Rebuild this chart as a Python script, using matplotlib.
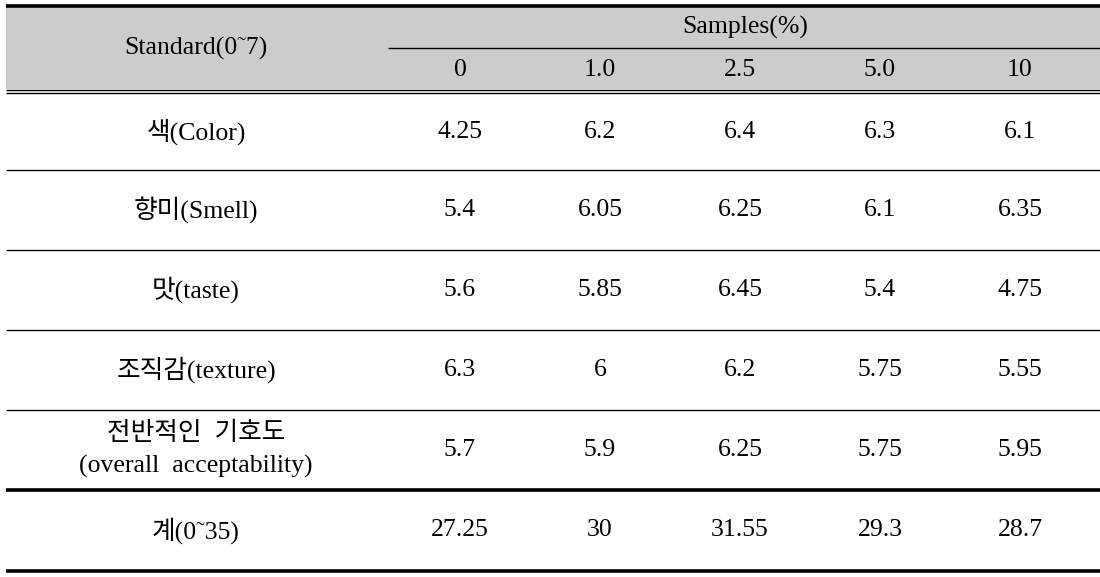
import matplotlib.pyplot as plt

plt.rcParams['font.family'] = ['Liberation Serif', 'Noto Sans CJK KR']

row_labels = ["색(Color)", "향미(Smell)", "맛(taste)", "조직감(texture)",
              "전반적인  기호도\n(overall  acceptability)", "계(0\u02dc35)"]
sample_cols = ["0", "1.0", "2.5", "5.0", "10"]
color_vals = ["4.25", "6.2", "6.4", "6.3", "6.1"]
smell_vals = ["5.4", "6.05", "6.25", "6.1", "6.35"]
taste_vals = ["5.6", "5.85", "6.45", "5.4", "4.75"]
texture_vals = ["6.3", "6", "6.2", "5.75", "5.55"]
overall_vals = ["5.7", "5.9", "6.25", "5.75", "5.95"]
total_vals = ["27.25", "30", "31.55", "29.3", "28.7"]
table = [color_vals, smell_vals, taste_vals, texture_vals, overall_vals, total_vals]

fig = plt.figure(figsize=(11, 5.77), dpi=100)
ax = fig.add_axes([0, 0, 1, 1])
ax.set_xlim(0, 1100)
ax.set_ylim(577, 0)
ax.axis('off')

x0, x1 = 6, 1100
col_x = [460, 600, 740, 880, 1020]
label_x = 196
fs = 18.5

# header background
ax.fill_between([x0, x1], 7, 89, color='#cccccc', lw=0)
ax.plot([x0, x1], [6, 6], color='black', lw=2.6, solid_capstyle='butt')
ax.plot([388, x1], [48, 48], color='black', lw=1.0, solid_capstyle='butt')
ax.plot([x0, x1], [89.5, 89.5], color='black', lw=1.0, solid_capstyle='butt')
ax.plot([x0, x1], [92.5, 92.5], color='black', lw=1.0, solid_capstyle='butt')

ax.text(label_x, 48, "Standard(0\u02dc7)", ha='center', va='center', fontsize=fs)
ax.text(745, 27, "Samples(%)", ha='center', va='center', fontsize=fs)
for x, c in zip(col_x, sample_cols):
    ax.text(x, 70, c, ha='center', va='center', fontsize=fs)

row_edges = [93, 170, 250, 330, 410, 490, 571]
for i, (lab, vals) in enumerate(zip(row_labels, table)):
    yc = (row_edges[i] + row_edges[i + 1]) / 2
    ax.text(label_x, yc, lab, ha='center', va='center', fontsize=fs,
            linespacing=1.6, fontweight='light')
    for x, v in zip(col_x, vals):
        ax.text(x, yc, v, ha='center', va='center', fontsize=fs)

for y in row_edges[1:5]:
    ax.plot([x0, x1], [y, y], color='black', lw=1.0, solid_capstyle='butt')
for y in row_edges[5:]:
    ax.plot([x0, x1], [y, y], color='black', lw=2.6, solid_capstyle='butt')

fig.savefig("out.png", dpi=100)
